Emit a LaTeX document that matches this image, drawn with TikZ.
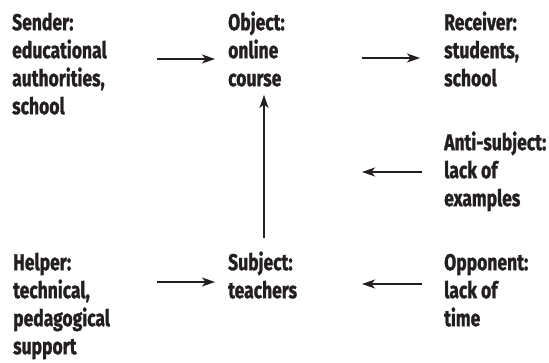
\documentclass[tikz,border=0pt]{standalone}
\usepackage{fontspec}
\setmainfont{Fira Sans}[FakeStretch=0.76,BoldFeatures={FakeBold=1.2}]
\usetikzlibrary{arrows.meta}
\definecolor{ink}{HTML}{231F20}
\begin{document}
\begin{tikzpicture}[x=1pt,y=-1pt,
  role/.style={anchor=north west,inner sep=0pt,align=left,text=ink,
    font=\fontsize{23}{28}\selectfont\bfseries},
  arr/.style={draw=ink,line width=1.2pt,
    -{Stealth[length=13pt,width=9pt,inset=3.5pt]}}]
\useasboundingbox (0,0) rectangle (549,363);
% actant labels (top of each box = first baseline minus strut height)
\node[role] (sender)   at (12,10.4)   {\strut Sender:\\educational\\authorities,\\school};
\node[role] (object)   at (228,10.4)  {\strut Object:\\online\\course};
\node[role] (receiver) at (444,10.4)  {\strut Receiver:\\students,\\school};
\node[role] (anti)     at (444,130.4) {\strut Anti-subject:\\lack of\\examples};
\node[role] (helper)   at (13,250.4)  {\strut Helper:\\technical,\\pedagogical\\support};
\node[role] (subject)  at (228,250.4) {\strut Subject:\\teachers};
\node[role] (opponent) at (444,250.4) {\strut Opponent:\\lack of\\time};
% arrow end points
\coordinate (s1) at (157,59);  \coordinate (s2) at (215,59);
\coordinate (r1) at (362,58);  \coordinate (r2) at (420,58);
\coordinate (v1) at (264,238); \coordinate (v2) at (264,95);
\coordinate (a1) at (422,172); \coordinate (a2) at (362,172);
\coordinate (h1) at (157,282); \coordinate (h2) at (215,282);
\coordinate (o1) at (422,284); \coordinate (o2) at (362,284);
% relations
\draw[arr] (s1) -- (s2);
\draw[arr] (r1) -- (r2);
\draw[arr] (v1) -- (v2);
\draw[arr] (a1) -- (a2);
\draw[arr] (h1) -- (h2);
\draw[arr] (o1) -- (o2);
\end{tikzpicture}
\end{document}
